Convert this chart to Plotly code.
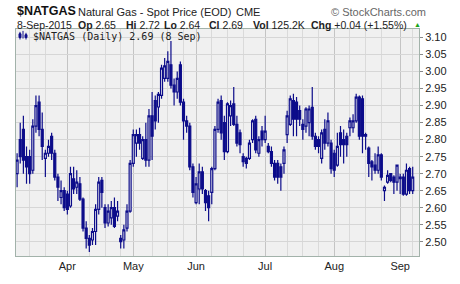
import plotly.graph_objects as go
import pandas as pd

# ---------------- data ----------------
holidays = ["2015-04-03", "2015-05-25", "2015-07-03", "2015-09-07"]
dates = [d for d in pd.bdate_range("2015-03-10", "2015-09-08")
         if d.strftime("%Y-%m-%d") not in holidays]

opens = [2.70, 2.80, 2.83, 2.75, 2.75, 2.71, 2.84, 2.91, 2.83, 2.745,
         2.76, 2.81, 2.76, 2.69, 2.63, 2.65, 2.64, 2.605, 2.685, 2.66,
         2.67, 2.625, 2.54, 2.51, 2.505, 2.53, 2.595, 2.68, 2.60, 2.555,
         2.57, 2.60, 2.575, 2.51, 2.505, 2.54, 2.59, 2.73, 2.79, 2.815,
         2.745, 2.80, 2.74, 2.87, 2.915, 2.896, 2.93, 2.98, 2.98, 3.02,
         2.96, 2.94, 3.02, 2.91, 2.855, 2.84, 2.72, 2.615, 2.655, 2.705,
         2.65, 2.635, 2.645, 2.715, 2.83, 2.915, 2.85, 2.765, 2.87, 2.905,
         2.845, 2.82, 2.75, 2.745, 2.745, 2.80, 2.86, 2.76, 2.825, 2.80,
         2.78, 2.765, 2.73, 2.73, 2.72, 2.73, 2.815, 2.845, 2.915, 2.91,
         2.885, 2.845, 2.84, 2.85, 2.895, 2.81, 2.80, 2.745, 2.83, 2.79,
         2.79, 2.76, 2.725, 2.82, 2.80, 2.81, 2.835, 2.835, 2.855, 2.925,
         2.92, 2.815, 2.775, 2.735, 2.725, 2.71, 2.755, 2.65, 2.675, 2.70,
         2.69, 2.675, 2.69, 2.69, 2.64, 2.715, 2.65]
highs = [2.76, 2.85, 2.87, 2.78, 2.77, 2.86, 2.93, 2.93, 2.88, 2.77,
         2.80, 2.82, 2.77, 2.70, 2.68, 2.66, 2.65, 2.72, 2.72, 2.71,
         2.69, 2.63, 2.56, 2.52, 2.54, 2.61, 2.69, 2.69, 2.61, 2.61,
         2.62, 2.63, 2.62, 2.52, 2.55, 2.61, 2.74, 2.83, 2.83, 2.835,
         2.81, 2.85, 2.89, 2.94, 2.93, 2.94, 3.02, 3.04, 3.06, 3.09,
         2.98, 3.00, 3.03, 2.92, 2.87, 2.85, 2.73, 2.69, 2.73, 2.72,
         2.655, 2.65, 2.72, 2.84, 2.92, 2.93, 2.87, 2.91, 2.915, 2.955,
         2.87, 2.83, 2.76, 2.75, 2.80, 2.86, 2.87, 2.81, 2.84, 2.87,
         2.79, 2.78, 2.74, 2.74, 2.73, 2.78, 2.885, 2.93, 2.935, 2.925,
         2.90, 2.86, 2.895, 2.90, 2.955, 2.82, 2.81, 2.83, 2.86, 2.88,
         2.80, 2.77, 2.82, 2.84, 2.83, 2.82, 2.865, 2.875, 2.935, 2.93,
         2.93, 2.82, 2.78, 2.74, 2.76, 2.78, 2.76, 2.665, 2.71, 2.70,
         2.695, 2.725, 2.70, 2.70, 2.73, 2.72, 2.72]
lows = [2.66, 2.73, 2.70, 2.67, 2.67, 2.70, 2.82, 2.81, 2.74, 2.69,
        2.75, 2.74, 2.68, 2.62, 2.61, 2.59, 2.58, 2.60, 2.64, 2.64,
        2.62, 2.53, 2.48, 2.47, 2.49, 2.49, 2.58, 2.60, 2.54, 2.545,
        2.55, 2.54, 2.56, 2.48, 2.48, 2.53, 2.585, 2.72, 2.75, 2.77,
        2.74, 2.72, 2.72, 2.74, 2.83, 2.85, 2.92, 2.97, 2.97, 2.95,
        2.90, 2.92, 2.90, 2.80, 2.82, 2.71, 2.63, 2.61, 2.61, 2.64,
        2.59, 2.56, 2.61, 2.71, 2.82, 2.80, 2.74, 2.76, 2.84, 2.84,
        2.78, 2.76, 2.72, 2.715, 2.74, 2.79, 2.76, 2.75, 2.78, 2.79,
        2.76, 2.72, 2.68, 2.67, 2.65, 2.70, 2.79, 2.84, 2.81, 2.81,
        2.84, 2.80, 2.82, 2.81, 2.80, 2.77, 2.76, 2.73, 2.77, 2.78,
        2.70, 2.69, 2.72, 2.75, 2.73, 2.75, 2.81, 2.82, 2.85, 2.80,
        2.76, 2.77, 2.69, 2.68, 2.70, 2.70, 2.68, 2.62, 2.67, 2.675,
        2.64, 2.65, 2.64, 2.635, 2.635, 2.64, 2.64]
closes = [2.74, 2.75, 2.74, 2.72, 2.70, 2.84, 2.90, 2.83, 2.78, 2.76,
          2.78, 2.76, 2.69, 2.66, 2.65, 2.60, 2.595, 2.70, 2.655, 2.675,
          2.625, 2.54, 2.51, 2.49, 2.53, 2.595, 2.675, 2.645, 2.555, 2.59,
          2.60, 2.545, 2.59, 2.50, 2.535, 2.59, 2.73, 2.815, 2.815, 2.79,
          2.80, 2.74, 2.87, 2.81, 2.855, 2.933, 3.01, 3.017, 3.03, 2.96,
          2.94, 2.98, 2.91, 2.855, 2.84, 2.72, 2.645, 2.67, 2.705, 2.655,
          2.615, 2.60, 2.715, 2.83, 2.91, 2.82, 2.765, 2.905, 2.90, 2.845,
          2.79, 2.785, 2.735, 2.73, 2.79, 2.855, 2.77, 2.80, 2.80, 2.825,
          2.765, 2.73, 2.69, 2.69, 2.69, 2.77, 2.87, 2.92, 2.86, 2.86,
          2.86, 2.83, 2.89, 2.89, 2.81, 2.78, 2.78, 2.82, 2.79, 2.855,
          2.715, 2.71, 2.78, 2.785, 2.785, 2.785, 2.855, 2.855, 2.925, 2.81,
          2.81, 2.81, 2.73, 2.72, 2.71, 2.755, 2.69, 2.66, 2.695, 2.68,
          2.675, 2.725, 2.685, 2.64, 2.71, 2.65, 2.69]

y_ticks = [2.50, 2.55, 2.60, 2.65, 2.70, 2.75, 2.80, 2.85, 2.90, 2.95, 3.00, 3.05, 3.10]
month_names = {4: "Apr", 5: "May", 6: "Jun", 7: "Jul", 8: "Aug", 9: "Sep"}

# ---------------- derived positions ----------------
pos = list(range(len(dates)))
month_pos, month_txt = [], []
for i in range(1, len(dates)):
    if dates[i].month != dates[i - 1].month:
        month_pos.append(i)
        month_txt.append(month_names[dates[i].month])
week_pos = []
for i in range(1, len(dates)):
    if dates[i].isocalendar()[1] != dates[i - 1].isocalendar()[1]:
        if all(abs(i - m) > 2 for m in month_pos):
            week_pos.append(i)

NAVY = "#0c0c8a"
BG = "#f0f0f0"
FRAME = "#a2b2aa"
W, H = 460, 284
L, R, T, B = 16, 41, 29, 17
PW, PH = W - L - R, H - T - B


def px(x):
    return (x - L) / PW


def py(y):
    return (H - B - y) / PH


fig = go.Figure()
fig.add_trace(go.Candlestick(
    x=pos, open=opens, high=highs, low=lows, close=closes,
    increasing=dict(line=dict(color=NAVY, width=1.2), fillcolor=BG),
    decreasing=dict(line=dict(color=NAVY, width=1.2), fillcolor=NAVY),
    whiskerwidth=0, showlegend=False, hoverinfo="skip"))

fig.update_layout(
    width=W, height=H, margin=dict(l=L, r=R, t=T, b=B),
    paper_bgcolor="white", plot_bgcolor=BG, boxgap=0.1,
    font=dict(family="Liberation Sans, Arial, sans-serif", size=11, color="#222"),
    xaxis=dict(range=[-0.35, 128.0], tickmode="array", tickvals=month_pos, ticktext=month_txt,
               showgrid=True, gridcolor="#c4c4c4", gridwidth=1, ticks="", zeroline=False,
               showline=True, mirror=True, linecolor=FRAME, linewidth=1,
               minor=dict(tickvals=week_pos, showgrid=True, gridcolor="#dadada", gridwidth=1, ticks=""),
               rangeslider=dict(visible=False), tickfont=dict(size=11, color="#222")),
    yaxis=dict(range=[2.458, 3.1252], side="right", tickmode="array", tickvals=y_ticks,
               ticktext=["%.2f" % v for v in y_ticks], ticks="outside", ticklen=3,
               tickcolor="#888", showgrid=True, gridcolor="#d6d6d6", gridwidth=1,
               zeroline=False, showline=True, mirror=True, linecolor=FRAME, linewidth=1,
               tickfont=dict(size=11, color="#222")),
)

ann = []


def text(x, y, s, size=11, color="#222", family="Liberation Sans, Arial, sans-serif"):
    ann.append(dict(x=px(x), y=py(y), xref="paper", yref="paper", text=s, showarrow=False,
                    xanchor="left", yanchor="middle", font=dict(size=size, color=color, family=family)))


text(15, 10.5, "<b>$NATGAS</b>", size=12.5, color="#111")
text(76, 11, "Natural Gas - Spot Price (EOD)", size=11)
text(234, 11, "CME", size=11)
text(329, 11, "© StockCharts.com", size=11, color="#666")
text(15, 25, "8-Sep-2015", size=10.5)
text(76, 25, "<b>Op</b> 2.65", size=10.5)
text(124, 25, "<b>Hi</b> 2.72", size=10.5)
text(162, 25, "<b>Lo</b> 2.64", size=10.5)
text(207, 25, "<b>Cl</b> 2.69", size=10.5)
text(251, 25, "<b>Vol</b> 125.2K", size=10.5)
text(309, 25, "<b>Chg</b> +0.04 (+1.55%)", size=10.5)
text(412, 24.5, "▲", size=7, color="#1aa51a")
text(31, 36.5, "$NATGAS (Daily) 2.69 (8 Sep)", size=10, color="#222",
     family="DejaVu Sans Mono, monospace")
fig.update_layout(annotations=ann)

# small legend glyph
shapes = []
for (x0, y0, y1) in [(20, 32, 40), (23, 31, 39), (26, 33, 40)]:
    shapes.append(dict(type="line", xref="paper", yref="paper", x0=px(x0), x1=px(x0),
                       y0=py(y0), y1=py(y1), line=dict(color=NAVY, width=1)))
for (x0, y0, y1) in [(19, 34, 38), (25, 35, 38)]:
    shapes.append(dict(type="rect", xref="paper", yref="paper", x0=px(x0), x1=px(x0 + 2),
                       y0=py(y0), y1=py(y1), line=dict(color=NAVY, width=1), fillcolor=NAVY))
fig.update_layout(shapes=shapes)

fig.write_html("out.html")
